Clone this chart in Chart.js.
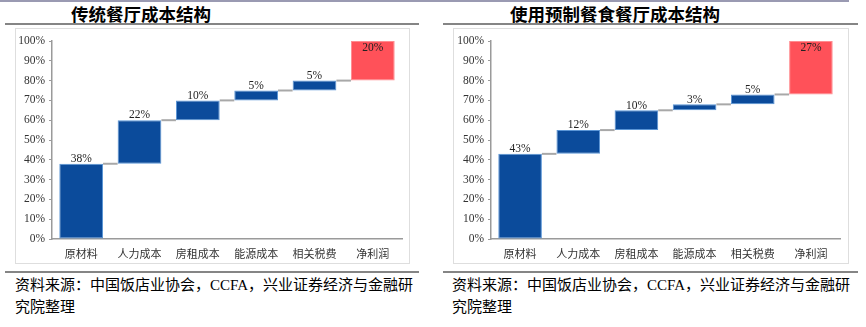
<!DOCTYPE html>
<html>
<head>
<meta charset="utf-8">
<script src="https://cdn.jsdelivr.net/npm/chart.js@4/dist/chart.umd.min.js"></script>
<style>
  html, body { margin:0; padding:0; background:#fff; }
  body { width:866px; height:327px; position:relative; overflow:hidden; }
  .abs { position:absolute; }
  .topline { left:0; top:0; width:849px; height:2px; background:#9a9ab2; }
  .rule { height:2px; background:#858585; }
  .box { border:1px solid #dedede; box-sizing:border-box; }
  .title { font-family:"Noto Sans CJK SC", sans-serif; font-weight:bold; font-size:17.5px; color:#000; line-height:20px; white-space:nowrap; }
  .src { font-family:"Liberation Serif", "Noto Sans CJK SC", serif; font-size:15px; color:#000; line-height:22px; white-space:nowrap; }
  canvas { position:absolute; }
</style>
</head>
<body>
<div class="abs topline"></div>

<div class="abs title" style="left:71px; top:4px;">传统餐厅成本结构</div>
<div class="abs title" style="left:510px; top:4px;">使用预制餐食餐厅成本结构</div>

<div class="abs rule" style="left:5px; top:23px; width:414px;"></div>
<div class="abs rule" style="left:443px; top:23px; width:415px;"></div>

<div class="abs box" style="left:15px; top:28px; width:395px; height:236px;"></div>
<div class="abs box" style="left:453px; top:28px; width:396px; height:236px;"></div>

<canvas id="c1" width="392" height="233" style="left:16px; top:29px;"></canvas>
<canvas id="c2" width="392" height="233" style="left:454px; top:29px;"></canvas>

<div class="abs rule" style="left:5px; top:271px; width:414px;"></div>
<div class="abs rule" style="left:443px; top:271px; width:415px;"></div>

<div class="abs src" style="left:15px; top:274px;">资料来源：中国饭店业协会，CCFA，兴业证券经济与金融研<br>究院整理</div>
<div class="abs src" style="left:452px; top:274px;">资料来源：中国饭店业协会，CCFA，兴业证券经济与金融研<br>究院整理</div>

<script>
// ---- data ----
const categories = ['原材料', '人力成本', '房租成本', '能源成本', '相关税费', '净利润'];
const traditionalShares = [38, 22, 10, 5, 5, 20];
const prepackagedShares = [43, 12, 10, 3, 5, 27];
const yTickValues = [0, 10, 20, 30, 40, 50, 60, 70, 80, 90, 100];

const BLUE = '#0b4b9b', BLUE_EDGE = '#5a95d6';
const RED = '#ff5159', RED_EDGE = '#ff8c90';

function floating(shares) {
  let cum = 0;
  return shares.map(v => { const r = [cum, cum + v]; cum += v; return r; });
}

const waterfallPlugin = {
  id: 'waterfall',
  afterDatasetsDraw(chart, args, opts) {
    const ctx = chart.ctx;
    const meta = chart.getDatasetMeta(0);
    const bars = meta.data;
    const shares = opts.shares;
    const area = chart.chartArea;
    ctx.save();
    // connectors
    ctx.strokeStyle = '#a8a8a8';
    ctx.lineWidth = 2;
    for (let i = 0; i < bars.length - 1; i++) {
      const a = bars[i], b = bars[i + 1];
      ctx.beginPath();
      ctx.moveTo(a.x + a.width / 2, a.y);
      ctx.lineTo(b.x - b.width / 2, a.y);
      ctx.stroke();
    }
    // labels
    ctx.font = '11.5px "Liberation Serif", serif';
    ctx.fillStyle = '#222';
    ctx.textAlign = 'center';
    bars.forEach((bar, i) => {
      const txt = shares[i] + '%';
      if (bar.y <= area.top + 1) {
        ctx.textBaseline = 'top';
        ctx.fillText(txt, bar.x, bar.y + 1);
      } else {
        ctx.textBaseline = 'bottom';
        ctx.fillText(txt, bar.x, bar.y + 1);
      }
    });
    ctx.restore();
  }
};

function makeChart(id, shares, yWidth) {
  const n = shares.length;
  new Chart(document.getElementById(id), {
    type: 'bar',
    data: {
      labels: categories,
      datasets: [{
        data: floating(shares),
        backgroundColor: shares.map((v, i) => i === n - 1 ? RED : BLUE),
        borderColor: shares.map((v, i) => i === n - 1 ? RED_EDGE : BLUE_EDGE),
        borderWidth: 1,
        borderSkipped: false,
        barPercentage: 0.75,
        categoryPercentage: 1.0
      }]
    },
    options: {
      responsive: false,
      animation: false,
      devicePixelRatio: 1,
      layout: { padding: { top: 12, right: 6, left: 0, bottom: 0 } },
      plugins: {
        legend: { display: false },
        tooltip: { enabled: false },
        waterfall: { shares: shares }
      },
      scales: {
        x: {
          grid: { display: false, drawTicks: false },
          border: { display: true, color: '#9a9a9a', width: 1.5 },
          ticks: {
            color: '#333',
            font: { family: '"Noto Sans CJK SC", sans-serif', size: 11 },
            padding: 8,
            maxRotation: 0
          },
          afterFit(scale) { scale.height = 23; }
        },
        y: {
          min: 0, max: 100,
          afterBuildTicks(scale) { scale.ticks = yTickValues.map(v => ({ value: v })); },
          grid: { display: true, drawOnChartArea: false, drawTicks: true, tickLength: 3, color: '#9a9a9a' },
          border: { display: true, color: '#9a9a9a', width: 1.5 },
          ticks: {
            color: '#333',
            font: { family: '"Liberation Serif", serif', size: 11.5 },
            padding: 4,
            callback: v => v + '%'
          },
          afterFit(scale) { scale.width = yWidth; }
        }
      }
    },
    plugins: [waterfallPlugin]
  });
}

makeChart('c1', traditionalShares, 36);
makeChart('c2', prepackagedShares, 37);
</script>
</body>
</html>
